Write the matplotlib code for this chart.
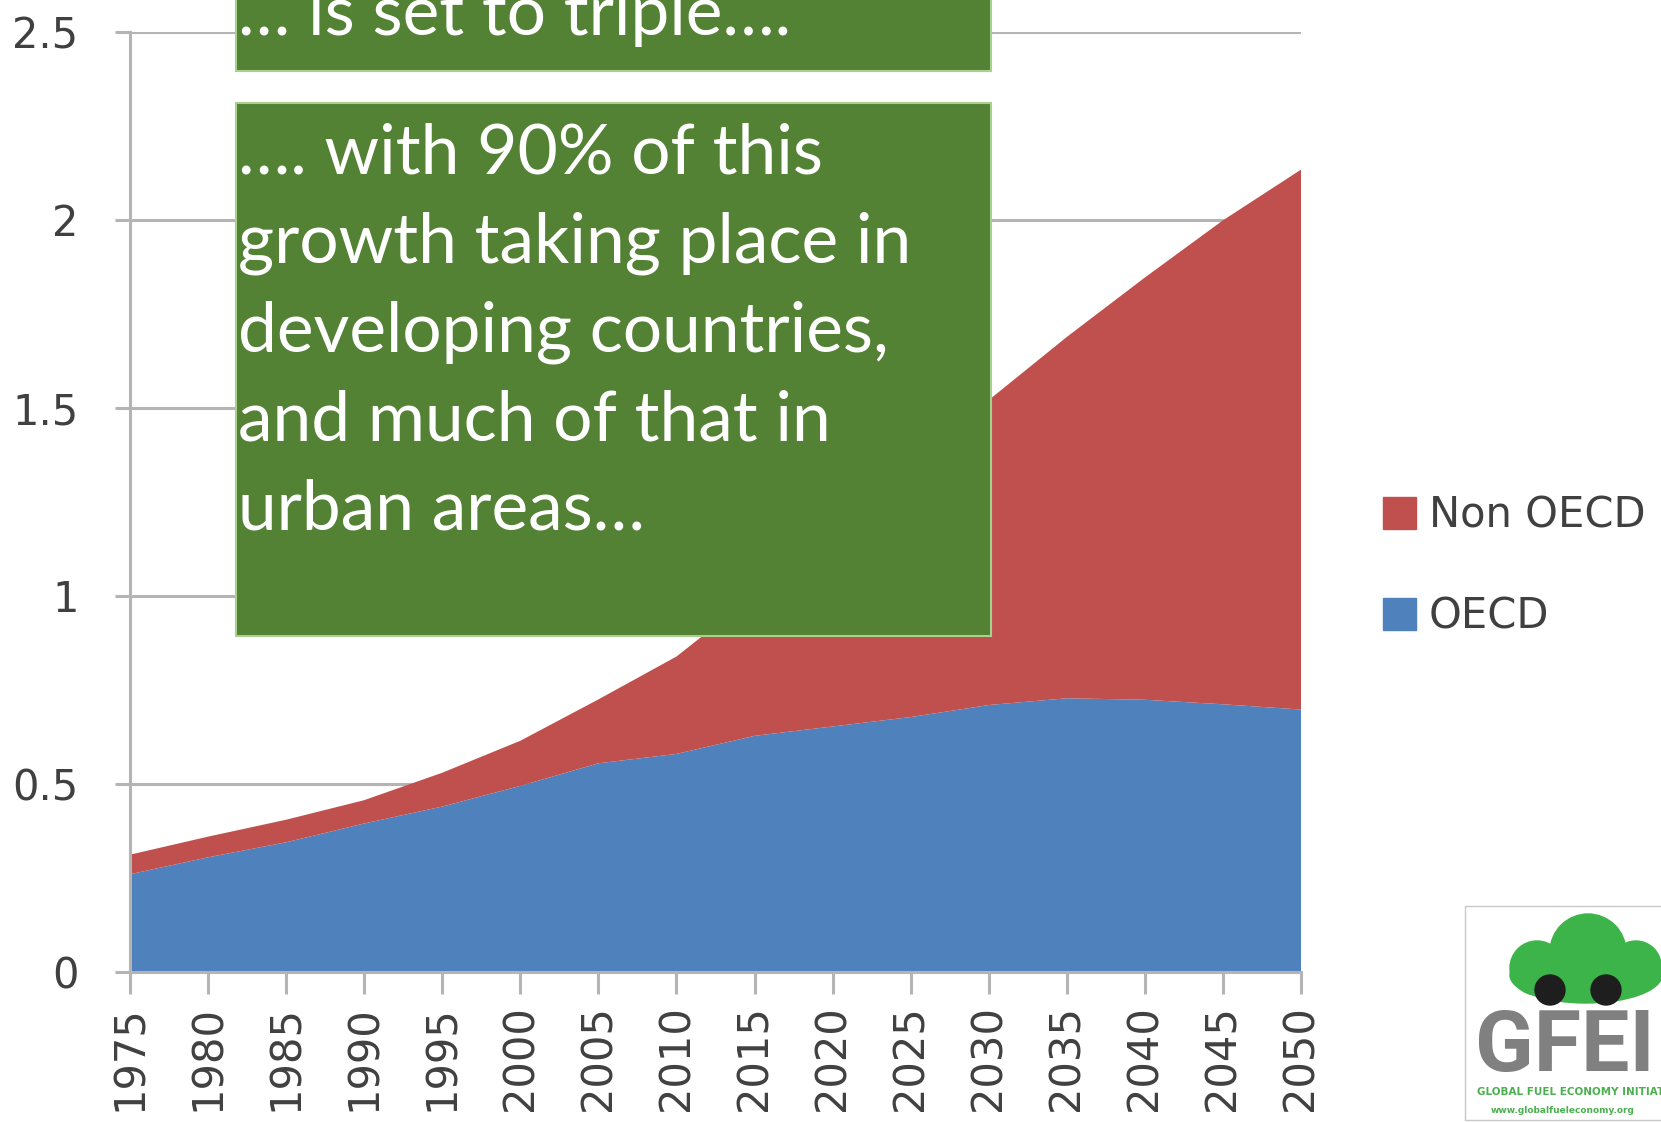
import matplotlib
matplotlib.use("Agg")
import matplotlib.pyplot as plt
from matplotlib.patches import Rectangle, Ellipse, Circle, Patch

# data
years = [1975, 1980, 1985, 1990, 1995, 2000, 2005, 2010,
         2015, 2020, 2025, 2030, 2035, 2040, 2045, 2050]
oecd = [0.26, 0.305, 0.345, 0.395, 0.44, 0.495, 0.555, 0.58,
        0.628, 0.653, 0.678, 0.71, 0.728, 0.724, 0.712, 0.698]
non_oecd = [0.052, 0.055, 0.06, 0.062, 0.09, 0.12, 0.17, 0.259,
            0.375, 0.522, 0.669, 0.811, 0.961, 1.123, 1.287, 1.436]
y_ticks = [0, 0.5, 1, 1.5, 2, 2.5]
y_labels = ["0", "0.5", "1", "1.5", "2", "2.5"]
series_names = ["OECD", "Non OECD"]

box_top_text = "\u2026 is set to triple\u2026."
box_lines = ["\u2026. with 90% of this",
             "growth taking place in",
             "developing countries,",
             "and much of that in",
             "urban areas\u2026"]

blue = "#4f81bd"
red = "#c0504d"
grid_col = "#b4b4b4"
box_green = "#548235"
box_edge = "#a9d18e"

W, H = 1661, 1122
fig = plt.figure(figsize=(W / 100, H / 100), dpi=100)
fig.patch.set_facecolor("white")

# main chart, placed in pixel terms
left, right, top, bottom = 130, 1301, 32, 972
ax = fig.add_axes([left / W, 1 - bottom / H, (right - left) / W, (bottom - top) / H])
ax.stackplot(years, oecd, non_oecd, colors=[blue, red], linewidth=0)
ax.set_xlim(1975, 2050)
ax.set_ylim(0, 2.5)
ax.set_xticks(years)
ax.set_xticklabels([str(y) for y in years], rotation=90)
ax.set_yticks(y_ticks)
ax.set_yticklabels(y_labels)
ax.set_axisbelow(True)
ax.yaxis.grid(True, color=grid_col, linewidth=2.2)
for s in ["top", "right"]:
    ax.spines[s].set_visible(False)
for s in ["left", "bottom"]:
    ax.spines[s].set_color(grid_col)
    ax.spines[s].set_linewidth(2.2)
ax.tick_params(axis="y", length=11, width=2.2, color=grid_col, pad=26,
               labelsize=30, labelcolor="#404040")
ax.tick_params(axis="x", length=16, width=2.2, color=grid_col, pad=8,
               labelsize=30, labelcolor="#404040")
for lab in ax.get_xticklabels() + ax.get_yticklabels():
    lab.set_family("DejaVu Sans")

handles = [Patch(facecolor=red, edgecolor=red), Patch(facecolor=blue, edgecolor=blue)]
fig.legend(handles, [series_names[1], series_names[0]], loc="center left",
           bbox_to_anchor=(1383 / W, 1 - 566 / H), frameon=False,
           handlelength=0.8, handleheight=0.8, handletextpad=0.3,
           labelspacing=1.4, borderpad=0, borderaxespad=0,
           prop={"family": "DejaVu Sans", "size": 30}, labelcolor="#404040")

# overlay in pixel coordinates for text boxes and logo
ov = fig.add_axes([0, 0, 1, 1])
ov.set_xlim(0, W)
ov.set_ylim(H, 0)
ov.axis("off")
ov.patch.set_alpha(0)

ov.add_patch(Rectangle((236, -20), 755, 91, facecolor=box_green,
                       edgecolor=box_edge, linewidth=1.5))
ov.text(238, 35, box_top_text, color="white", fontsize=50, family="Lato",
        va="baseline", ha="left")
ov.add_patch(Rectangle((236, 103), 755, 533, facecolor=box_green,
                       edgecolor=box_edge, linewidth=1.5))
for i, line in enumerate(box_lines):
    ov.text(238, 173 + 89 * i, line, color="white", fontsize=50, family="Lato",
            va="baseline", ha="left")

# GFEI logo, bottom right (partly cut off by the edge)
ov.add_patch(Rectangle((1465, 906), 230, 214, facecolor="white",
                       edgecolor="#c8c8c8", linewidth=1))
cloud = "#3db449"
ov.add_patch(Ellipse((1586, 975), 152, 56, color=cloud))
ov.add_patch(Circle((1588, 952), 38, color=cloud))
ov.add_patch(Circle((1537, 968), 27, color=cloud))
ov.add_patch(Circle((1636, 966), 25, color=cloud))
ov.add_patch(Circle((1550, 990), 15, color="#1e1e1e"))
ov.add_patch(Circle((1606, 990), 15, color="#1e1e1e"))
ov.text(1475, 1071, "GFEI", color="#808080", fontsize=62, fontweight="bold",
        family="Roboto", va="baseline", ha="left")
ov.text(1477, 1095, "GLOBAL FUEL ECONOMY INITIATIVE", color="#4caf50",
        fontsize=7.5, fontweight="bold", family="DejaVu Sans", va="baseline")
ov.text(1491, 1113, "www.globalfueleconomy.org", color="#4caf50",
        fontsize=6.5, fontweight="bold", family="DejaVu Sans", va="baseline")

fig.savefig("out.png", dpi=100)
